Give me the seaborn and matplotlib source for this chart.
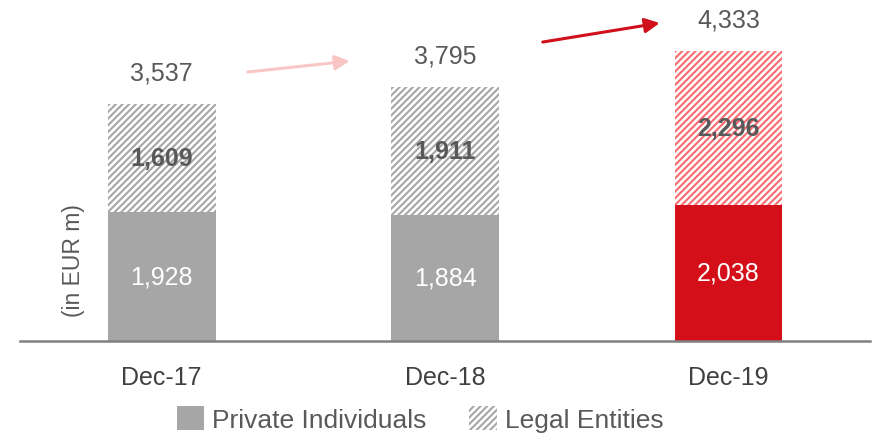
import matplotlib
matplotlib.use("Agg")
import matplotlib.pyplot as plt
from matplotlib.patches import Patch
import seaborn as sns
import pandas as pd

# Data (EUR m)
periods = ["Dec-17", "Dec-18", "Dec-19"]
private_individuals = [1928, 1884, 2038]
legal_entities = [1609, 1911, 2296]
totals = [3537, 3795, 4333]

sns.set_theme(style="white")
plt.rcParams["font.family"] = ["Liberation Sans", "DejaVu Sans"]
plt.rcParams["hatch.linewidth"] = 1.5

GREY = "#A6A6A6"
RED = "#D40F19"
RED_HATCH = "#FA6A6E"
TEXT = "#595959"
HATCH = "/////"

solid_colors = [GREY, GREY, RED]
hatch_colors = [GREY, GREY, RED_HATCH]

df = pd.DataFrame({
    "period": periods,
    "private": private_individuals,
    "legal": legal_entities,
    "total": totals,
})

fig = plt.figure(figsize=(8.72, 4.35), dpi=100)
ax = fig.add_axes([20 / 872, 1 - 342 / 435, 850 / 872, 342 / 435])

# Full stack height first (hatched legal-entity segment shows above the private part)
sns.barplot(data=df, x="period", y="total", hue="period", palette=hatch_colors,
            width=0.38, legend=False, ax=ax, saturation=1)
n = len(periods)
for i, p in enumerate(ax.patches[:n]):
    p.set_facecolor("white")
    p.set_edgecolor(hatch_colors[i])
    p.set_hatch(HATCH)
    p.set_linewidth(0)

# Private individuals on the bottom
sns.barplot(data=df, x="period", y="private", hue="period", palette=solid_colors,
            width=0.38, legend=False, ax=ax, saturation=1)
for i, p in enumerate(ax.patches[n:]):
    p.set_facecolor(solid_colors[i])
    p.set_linewidth(0)

ax.set_xlim(-0.5, 2.5)
ax.set_ylim(0, 342 / 290 * totals[2])
ax.set_xlabel("")
ax.set_ylabel("")
ax.set_yticks([])
for s in ["top", "right", "left"]:
    ax.spines[s].set_visible(False)
ax.spines["bottom"].set_color("#808080")
ax.spines["bottom"].set_linewidth(1.8)
ax.tick_params(axis="x", length=0, pad=17, labelsize=18, labelcolor="#404040")

for i in range(n):
    ax.text(i, private_individuals[i] / 2, f"{private_individuals[i]:,}",
            ha="center", va="center", color="white", fontsize=18)
    ax.text(i, private_individuals[i] + legal_entities[i] / 2, f"{legal_entities[i]:,}",
            ha="center", va="center", color=TEXT, fontsize=18, fontweight="bold")
    ax.text(i, totals[i] + 470, f"{totals[i]:,}",
            ha="center", va="center", color=TEXT, fontsize=18)

# Growth arrows
ax.annotate("", xy=(0.664, 4183), xytext=(0.304, 4019),
            arrowprops=dict(arrowstyle="-|>", color="#F9C6C6", lw=2.2,
                            mutation_scale=22, shrinkA=0, shrinkB=0))
ax.annotate("", xy=(1.758, 4751), xytext=(1.345, 4467),
            arrowprops=dict(arrowstyle="-|>", color="#D0101B", lw=2.2,
                            mutation_scale=22, shrinkA=0, shrinkB=0))

fig.text(73 / 872, 1 - 261 / 435, "(in EUR m)", rotation=90, ha="center", va="center",
         color=TEXT, fontsize=16.5)

handles = [
    Patch(facecolor=GREY, edgecolor=GREY, linewidth=0, label="Private Individuals"),
    Patch(facecolor="white", edgecolor=GREY, linewidth=0, hatch=HATCH, label="Legal Entities"),
]
leg = fig.legend(handles=handles, loc="center", bbox_to_anchor=(420 / 872, 1 - 420 / 435),
                 ncol=2, frameon=False, fontsize=19, handlelength=1.05, handleheight=1.0,
                 handletextpad=0.3, columnspacing=1.6)
for t in leg.get_texts():
    t.set_color(TEXT)

fig.savefig("out.png", dpi=100)
